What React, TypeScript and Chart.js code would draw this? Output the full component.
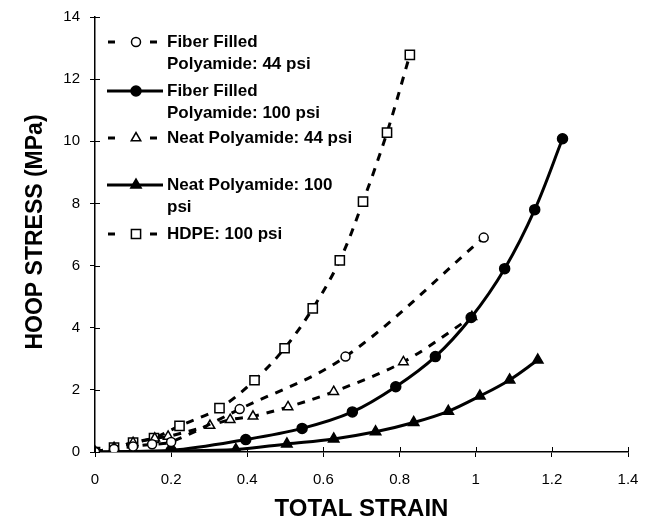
import { useEffect, useRef } from 'react';
import { Chart, registerables } from 'chart.js';

Chart.register(...registerables);

const FONT = '"Liberation Sans", Arial, Helvetica, sans-serif';

// Fiber filled polyamide, 44 psi (open circles, dashed)
const fiber44Strain = [0, 0.05, 0.1, 0.15, 0.2, 0.38, 0.658, 1.021];
const fiber44Stress = [0, 0.1, 0.18, 0.25, 0.32, 1.38, 3.07, 6.9];

// Fiber filled polyamide, 100 psi (filled circles, solid)
const fiber100Strain = [0, 0.2, 0.396, 0.544, 0.676, 0.79, 0.894, 0.988, 1.076, 1.155, 1.228];
const fiber100Stress = [0, 0.05, 0.4, 0.76, 1.29, 2.1, 3.07, 4.33, 5.9, 7.8, 10.08];

// Neat polyamide, 44 psi (open triangles, dashed)
const neat44Strain = [0, 0.05, 0.1, 0.157, 0.192, 0.302, 0.355, 0.415, 0.507, 0.627, 0.81, 0.99];
const neat44Stress = [0, 0.14, 0.3, 0.44, 0.5, 0.85, 1.04, 1.15, 1.45, 1.94, 2.9, 4.35];

// Neat polyamide, 100 psi (filled triangles, solid)
const neat100Strain = [0, 0.2, 0.37, 0.504, 0.627, 0.737, 0.837, 0.928, 1.011, 1.089, 1.163];
const neat100Stress = [0, 0.03, 0.08, 0.26, 0.42, 0.65, 0.95, 1.31, 1.8, 2.32, 2.96];

// HDPE, 100 psi (open squares, dashed)
const hdpeStrain = [0, 0.05, 0.1, 0.155, 0.222, 0.327, 0.419, 0.498, 0.572, 0.643, 0.704, 0.767, 0.827];
const hdpeStress = [0, 0.14, 0.3, 0.45, 0.84, 1.41, 2.31, 3.34, 4.62, 6.17, 8.06, 10.28, 12.78];

const seriesLabels = [
  ['Fiber Filled', 'Polyamide: 44 psi'],
  ['Fiber Filled', 'Polyamide: 100 psi'],
  ['Neat Polyamide: 44 psi'],
  ['Neat Polyamide: 100', 'psi'],
  ['HDPE: 100 psi'],
];

const xTitle = 'TOTAL STRAIN';
const yTitle = 'HOOP STRESS (MPa)';

type Marker = 'circle' | 'triangle' | 'rect';

interface SeriesStyle {
  marker: Marker;
  filled: boolean;
  dashed: boolean;
  radius: number;
}

// radius is the Chart.js point radius for each marker type
const styles: SeriesStyle[] = [
  { marker: 'circle', filled: false, dashed: true, radius: 4.5 },
  { marker: 'circle', filled: true, dashed: false, radius: 5 },
  { marker: 'triangle', filled: false, dashed: true, radius: 5.5 },
  { marker: 'triangle', filled: true, dashed: false, radius: 6 },
  { marker: 'rect', filled: false, dashed: true, radius: 6.5 },
];

const seriesData: [number[], number[]][] = [
  [fiber44Strain, fiber44Stress],
  [fiber100Strain, fiber100Stress],
  [neat44Strain, neat44Stress],
  [neat100Strain, neat100Stress],
  [hdpeStrain, hdpeStress],
];

const DASH = [8, 8];

const formatTick = (v: number | string) => String(Math.round(Number(v) * 10) / 10);

// Same shapes Chart.js uses for its point styles, for the legend samples
function drawMarker(ctx: CanvasRenderingContext2D, s: SeriesStyle, x: number, y: number) {
  ctx.save();
  ctx.setLineDash([]);
  ctx.lineWidth = 1.5;
  ctx.strokeStyle = '#000';
  ctx.fillStyle = s.filled ? '#000' : '#fff';
  ctx.beginPath();
  const r = s.radius;
  if (s.marker === 'circle') {
    ctx.arc(x, y, r, 0, Math.PI * 2);
  } else if (s.marker === 'triangle') {
    const side = (r * 3) / Math.sqrt(3);
    const h = (side * Math.sqrt(3)) / 2;
    ctx.moveTo(x - side / 2, y + h / 3);
    ctx.lineTo(x + side / 2, y + h / 3);
    ctx.lineTo(x, y - (2 * h) / 3);
    ctx.closePath();
  } else {
    const half = r * Math.SQRT1_2;
    ctx.rect(x - half, y - half, half * 2, half * 2);
  }
  ctx.fill();
  ctx.stroke();
  ctx.restore();
}

// Legend with wrapped labels, drawn inside the plot area
const legendPlugin = {
  id: 'wrappedLegend',
  afterDraw(chart: Chart) {
    const ctx = chart.ctx;
    const rows = [42, 91, 138, 185, 234];
    const textX = 167;
    const lineGap = 22;
    ctx.save();
    ctx.font = `bold 17px ${FONT}`;
    ctx.fillStyle = '#000';
    ctx.textBaseline = 'middle';
    ctx.textAlign = 'left';
    seriesLabels.forEach((lines, i) => {
      const y = rows[i];
      const s = styles[i];
      ctx.save();
      ctx.strokeStyle = '#000';
      ctx.lineWidth = 3;
      ctx.beginPath();
      if (s.dashed) {
        ctx.moveTo(108, y);
        ctx.lineTo(115, y);
        ctx.moveTo(150, y);
        ctx.lineTo(157, y);
      } else {
        ctx.moveTo(107, y);
        ctx.lineTo(163, y);
      }
      ctx.stroke();
      ctx.restore();
      drawMarker(ctx, s, 136, y);
      lines.forEach((t, j) => ctx.fillText(t, textX, y + j * lineGap));
    });
    ctx.restore();
  },
};

// Tick marks that cross the axes into the plot area, and the vertical axis title
const axisExtrasPlugin = {
  id: 'axisExtras',
  afterDatasetsDraw(chart: Chart) {
    const { ctx, chartArea, scales } = chart;
    ctx.save();
    ctx.strokeStyle = '#000';
    ctx.lineWidth = 1;
    ctx.beginPath();
    scales.x.ticks.forEach((t) => {
      const px = Math.round(scales.x.getPixelForValue(t.value)) + 0.5;
      ctx.moveTo(px, chartArea.bottom);
      ctx.lineTo(px, chartArea.bottom - 5);
    });
    scales.y.ticks.forEach((t) => {
      const py = Math.round(scales.y.getPixelForValue(t.value)) + 0.5;
      ctx.moveTo(chartArea.left, py);
      ctx.lineTo(chartArea.left + 5, py);
    });
    ctx.stroke();
    ctx.restore();
  },
  afterDraw(chart: Chart) {
    const ctx = chart.ctx;
    ctx.save();
    ctx.translate(36, 232);
    ctx.rotate(-Math.PI / 2);
    ctx.font = `bold 23px ${FONT}`;
    ctx.fillStyle = '#000';
    ctx.textAlign = 'center';
    ctx.textBaseline = 'middle';
    ctx.fillText(yTitle, 0, 0);
    ctx.restore();
  },
};

export default function App() {
  const canvasRef = useRef<HTMLCanvasElement | null>(null);

  useEffect(() => {
    const canvas = canvasRef.current;
    if (!canvas) return;

    const datasets = seriesData.map(([xs, ys], i) => {
      const s = styles[i];
      return {
        label: seriesLabels[i].join(' '),
        data: xs.map((x, k) => ({ x, y: ys[k] })),
        borderColor: '#000',
        borderWidth: 3,
        borderDash: s.dashed ? DASH : [],
        backgroundColor: s.filled ? '#000' : '#fff',
        pointBackgroundColor: s.filled ? '#000' : '#fff',
        pointBorderColor: '#000',
        pointBorderWidth: 1.5,
        pointStyle: s.marker,
        pointRadius: s.radius,
        tension: 0.35,
        fill: false,
      };
    });

    const chart = new Chart(canvas, {
      type: 'line',
      data: { datasets },
      options: {
        responsive: false,
        animation: false,
        devicePixelRatio: 1,
        layout: { padding: { top: 17, right: 18, left: 0, bottom: 0 } },
        plugins: {
          legend: { display: false },
          tooltip: { enabled: false },
        },
        scales: {
          x: {
            type: 'linear',
            min: 0,
            max: 1.4,
            ticks: {
              stepSize: 0.2,
              maxRotation: 0,
              color: '#000',
              font: { family: FONT, size: 15 },
              padding: 14,
              callback: formatTick,
            },
            grid: { display: true, drawOnChartArea: false, tickLength: 5, color: '#000' },
            border: { color: '#000', width: 1.5 },
            title: {
              display: true,
              text: xTitle,
              color: '#000',
              font: { family: FONT, size: 24, weight: 'bold' },
              padding: { top: 0, bottom: 0 },
            },
            afterFit(scale: any) {
              scale.height = 72;
              scale.paddingLeft = 0;
              scale.paddingRight = 0;
            },
          },
          y: {
            type: 'linear',
            min: 0,
            max: 14,
            ticks: {
              stepSize: 2,
              color: '#000',
              font: { family: FONT, size: 15 },
              padding: 10,
              callback: formatTick,
            },
            grid: { display: true, drawOnChartArea: false, tickLength: 5, color: '#000' },
            border: { color: '#000', width: 1.5 },
            afterFit(scale: any) {
              scale.width = 95;
              scale.paddingTop = 0;
              scale.paddingBottom = 0;
            },
          },
        },
      },
      plugins: [axisExtrasPlugin, legendPlugin],
    });

    return () => chart.destroy();
  }, []);

  return (
    <div style={{ position: 'absolute', left: 0, top: 0, width: 646, height: 524, background: '#fff' }}>
      <canvas ref={canvasRef} width={646} height={524} style={{ display: 'block' }} />
    </div>
  );
}
